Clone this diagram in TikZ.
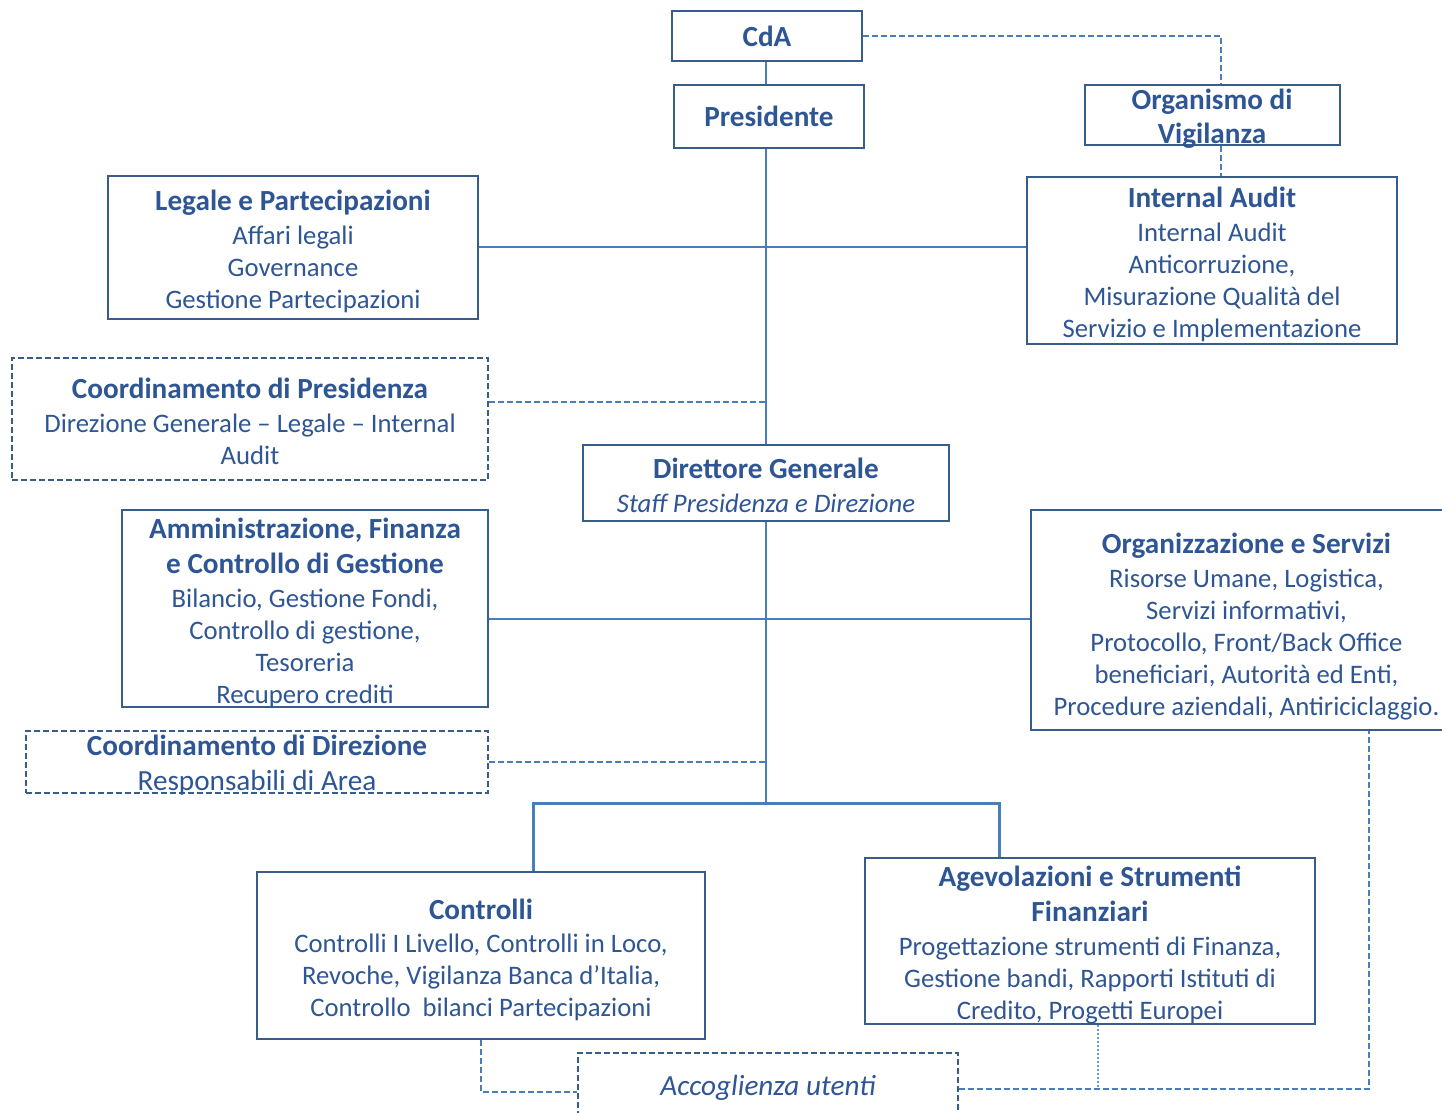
\documentclass[tikz,border=0pt]{standalone}
\usepackage{fontspec}
\setmainfont{Carlito}
\usetikzlibrary{positioning}

\definecolor{txtblue}{RGB}{47,86,148}
\definecolor{boxblue}{RGB}{56,93,138}
\definecolor{linkblue}{RGB}{74,126,187}

\newcommand{\orghead}[1]{{\fontsize{14.6}{17}\selectfont\bfseries #1}}
% extra room above the first line of a box
\newcommand{\topgap}[1]{\rule{0pt}{#1}}

\begin{document}
\begin{tikzpicture}[
    % one unit = one pixel of the original chart
    x=0.5pt, y=-0.5pt,
    % text of the boxes
    font=\fontsize{13.35}{16}\selectfont,
    text=txtblue,
    box/.style = {rectangle, draw=boxblue, line width=1pt, fill=white,
                  align=center, inner sep=0pt, text depth=0pt},
    dbox/.style = {box, dashed, dash pattern=on 3pt off 1.5pt, line width=0.8pt},
    line/.style = {draw=linkblue, line width=1.2pt},
    bus/.style = {draw=linkblue, line width=1.5pt},
    dline/.style = {draw=linkblue, line width=0.8pt, dash pattern=on 3pt off 1.5pt},
    fline/.style = {draw=linkblue!80, line width=0.6pt, dash pattern=on 1pt off 1pt}
    ]

    \useasboundingbox (0,0) rectangle (1442,1113);

    % junction points
    \coordinate (V)  at (1221,36);
    \coordinate (P1) at (766,402);
    \coordinate (H1) at (766,247);
    \coordinate (H2) at (766,619);
    \coordinate (T)  at (766,803);
    \coordinate (BL) at (533,803);
    \coordinate (BR) at (999,803);
    \coordinate (Lc) at (481,1092);
    \coordinate (R)  at (1369,1089);
    \coordinate (D)  at (1098,1089);

    % nodes
    \node (CdA) [box, minimum width=95pt, minimum height=25pt] at (767,36) {\orghead{CdA}};
    \node (Pres) [box, minimum width=95pt, minimum height=31.5pt] at (769,116.5) {\orghead{Presidente}};

    \node (OdV) [box, minimum width=127.5pt, minimum height=30pt] at (1212.5,115) {};
    \node [align=center, font=\fontsize{14.6}{17}\selectfont\bfseries] at (1212,119) {Organismo di\\Vigilanza};

    \node (IA) [box, minimum width=185pt, minimum height=83.5pt] at (1212,260.5)
        {\topgap{12pt}\orghead{Internal Audit}\\[1pt] Internal Audit\\ Anticorruzione,\\ Misurazione Qualità del\\ Servizio e Implementazione};

    \node (Leg) [box, minimum width=185pt, minimum height=71.5pt] at (293,247.5)
        {\topgap{12pt}\orghead{Legale e Partecipazioni}\\[1pt] Affari legali\\ Governance\\ Gestione Partecipazioni};

    \node (CoordP) [dbox, minimum width=238pt, minimum height=61pt] at (250,419)
        {\topgap{12pt}\orghead{Coordinamento di Presidenza}\\[1pt] Direzione Generale – Legale – Internal\\ Audit};

    \node (DG) [box, minimum width=183pt, minimum height=38pt] at (766,483)
        {\topgap{12pt}\orghead{Direttore Generale}\\[1pt] \textit{Staff Presidenza e Direzione}};

    \node (AFC) [box, minimum width=183pt, minimum height=98.5pt] at (305,608.5)
        {\topgap{12pt}\orghead{Amministrazione, Finanza}\\[1.5pt] \orghead{e Controllo di Gestione}\\[1pt] Bilancio, Gestione Fondi,\\ Controllo di gestione,\\ Tesoreria\\ Recupero crediti};

    \node (OS) [box, minimum width=215.5pt, minimum height=110pt] at (1246.5,620)
        {\topgap{14pt}\orghead{Organizzazione e Servizi}\\[1pt] Risorse Umane, Logistica,\\ Servizi informativi,\\ Protocollo, Front/Back Office\\ beneficiari, Autorità ed Enti,\\ Procedure aziendali, Antiriciclaggio.};

    \node (CoordD) [dbox, minimum width=231pt, minimum height=31pt] at (257,762) {};
    \node [align=center, font=\fontsize{14.6}{17.5}\selectfont] at (257,765)
        {\textbf{Coordinamento di Direzione}\\ Responsabili di Area};

    \node (Ctrl) [box, minimum width=224pt, minimum height=83.5pt] at (481,955.5)
        {\topgap{12pt}\orghead{Controlli}\\[0.5pt] Controlli I Livello, Controlli in Loco,\\ Revoche, Vigilanza Banca d’Italia,\\ Controllo\ \ bilanci Partecipazioni};

    \node (Agev) [box, minimum width=225pt, minimum height=83pt] at (1090,941)
        {\topgap{12pt}\orghead{Agevolazioni e Strumenti}\\[1.5pt] \orghead{Finanziari}\\[1pt] Progettazione strumenti di Finanza,\\ Gestione bandi, Rapporti Istituti di\\ Credito, Progetti Europei};

    \node (Acc) [dbox, minimum width=190pt, minimum height=32pt] at (768,1085)
        {\fontsize{14.6}{17}\selectfont\itshape Accoglienza utenti};

    % edges
    \path[line] (CdA.south -| T) -- (T |- Pres.north);
    \path[line] (Pres.south -| T) -- (T |- DG.north);
    \path[line] (T |- DG.south) -- (T);
    \path[line] (Leg.east |- H1) -- (IA.west |- H1);
    \path[line] (AFC.east |- H2) -- (OS.west |- H2);
    \path[bus] (BL |- Ctrl.north) -- (BL) -- (BR) -- (BR |- Agev.north);

    \path[dline] (CoordP.east |- P1) -- (P1);
    \path[dline] (CoordD.east) -- (CoordD.east -| T);
    \path[dline] (CdA.east) -- (V) -- (V |- OdV.north);
    \path[dline] (V |- OdV.south) -- (V |- IA.north);
    \path[dline] (Ctrl.south -| Lc) -- (Lc) -- (Lc -| Acc.west);
    \path[dline] (Acc.east |- R) -- (R) -- (R |- OS.south);
    \path[fline] (D |- Agev.south) -- (D);
\end{tikzpicture}
\end{document}
